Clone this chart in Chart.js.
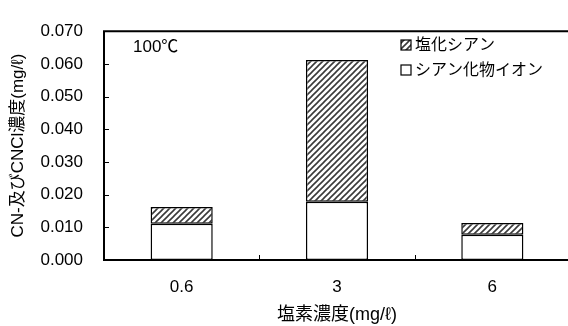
<!DOCTYPE html>
<html>
<head>
<meta charset="utf-8">
<script src="https://cdn.jsdelivr.net/npm/chart.js@4/dist/chart.umd.min.js"></script>
<style>
  html, body { margin: 0; padding: 0; background: #fff; overflow: hidden; }
  #wrap { width: 572px; height: 326px; }
</style>
</head>
<body>
<div id="wrap"><canvas id="c" width="572" height="326"></canvas></div>
<script>
// ---- data ----
const categories = ['0.6', '3', '6'];
const cyanideIon = [0.0111, 0.0178, 0.0077];        // シアン化物イオン (lower)
const cyanogenChloride = [0.0051, 0.0434, 0.0036];  // 塩化シアン (upper)
const seriesNames = ['シアン化物イオン', '塩化シアン'];
const yMin = 0, yMax = 0.07, yStep = 0.01;
const xTitle = '塩素濃度(mg/ℓ)';
const yTitle = 'CN-及びCNCl濃度(mg/ℓ)';
const note = '100℃';

const FONT = "'Liberation Sans', 'Noto Sans CJK JP', Arial, sans-serif";

// hatch pattern ///
function makeHatch() {
  const s = 6;
  const pc = document.createElement('canvas');
  pc.width = s; pc.height = s;
  const g = pc.getContext('2d');
  g.fillStyle = '#fff';
  g.fillRect(0, 0, s, s);
  g.strokeStyle = '#3a3a3a';
  g.lineWidth = 1.6;
  g.beginPath();
  g.moveTo(-1, s + 1); g.lineTo(s + 1, -1);
  g.moveTo(-1, 1); g.lineTo(1, -1);
  g.moveTo(s - 1, s + 1); g.lineTo(s + 1, s - 1);
  g.stroke();
  return g.createPattern(pc, 'repeat');
}
const ctx0 = document.getElementById('c').getContext('2d');
const hatch = makeHatch();

const decorPlugin = {
  id: 'decor',
  afterDatasetsDraw(chart) {
    const ctx = chart.ctx;
    const a = chart.chartArea;
    const ys = chart.scales.y, xs = chart.scales.x;
    ctx.save();
    // inner ticks on y
    ctx.strokeStyle = '#000';
    ctx.lineWidth = 1;
    ys.ticks.forEach(t => {
      const py = Math.round(ys.getPixelForValue(t.value)) + 0.5;
      ctx.beginPath();
      ctx.moveTo(a.left, py);
      ctx.lineTo(a.left + 5, py);
      ctx.stroke();
    });
    // inner ticks on x at category boundaries
    for (let i = 0; i < categories.length - 1; i++) {
      const px = Math.round((xs.getPixelForValue(i) + xs.getPixelForValue(i + 1)) / 2) + 0.5;
      ctx.beginPath();
      ctx.moveTo(px, a.bottom);
      ctx.lineTo(px, a.bottom - 5);
      ctx.stroke();
    }
    // axis lines: left, top, bottom
    ctx.lineWidth = 2;
    ctx.beginPath();
    ctx.moveTo(a.left, a.top);
    ctx.lineTo(a.left, a.bottom);
    ctx.moveTo(a.left - 1, a.top);
    ctx.lineTo(a.right, a.top);
    ctx.moveTo(a.left - 1, a.bottom);
    ctx.lineTo(a.right, a.bottom);
    ctx.stroke();

    // note
    ctx.fillStyle = '#000';
    ctx.font = '17px ' + FONT;
    ctx.textBaseline = 'middle';
    ctx.textAlign = 'left';
    ctx.fillText(note, 133, 47);

    // legend (upper series first)
    const ds = chart.data.datasets;
    const order = [1, 0];
    ctx.font = '16px ' + FONT;
    order.forEach((di, r) => {
      const cy = 45 + r * 25;
      const bx = 401, bs = 10;
      ctx.fillStyle = ds[di].backgroundColor;
      ctx.fillRect(bx, cy - bs / 2, bs, bs);
      ctx.strokeStyle = '#000';
      ctx.lineWidth = 1.2;
      ctx.strokeRect(bx, cy - bs / 2, bs, bs);
      ctx.fillStyle = '#000';
      ctx.fillText(ds[di].label, 415, cy + 1);
    });
    ctx.restore();
  }
};

new Chart(ctx0, {
  type: 'bar',
  data: {
    labels: categories,
    datasets: [
      {
        label: seriesNames[0],
        data: cyanideIon,
        backgroundColor: '#ffffff',
        borderColor: '#000',
        borderWidth: 1.5,
        borderSkipped: false,
        categoryPercentage: 1,
        barPercentage: 0.4
      },
      {
        label: seriesNames[1],
        data: cyanogenChloride,
        backgroundColor: hatch,
        borderColor: '#000',
        borderWidth: 1.5,
        borderSkipped: false,
        categoryPercentage: 1,
        barPercentage: 0.4
      }
    ]
  },
  options: {
    responsive: false,
    animation: false,
    events: [],
    layout: { padding: { left: 0, top: 19, right: 2, bottom: 0 } },
    plugins: { legend: { display: false }, tooltip: { enabled: false } },
    scales: {
      x: {
        stacked: true,
        grid: { display: false, drawTicks: false },
        border: { display: false },
        ticks: { color: '#000', font: { family: FONT, size: 17 }, padding: 17 },
        title: { display: true, text: xTitle, color: '#000', font: { family: FONT, size: 18 }, padding: { top: 0, bottom: 0 } },
        afterFit(s) { s.height = 66; }
      },
      y: {
        stacked: true,
        min: yMin, max: yMax,
        grid: { display: false, drawTicks: false },
        border: { display: false },
        ticks: {
          stepSize: yStep,
          color: '#000',
          font: { family: FONT, size: 17 },
          padding: 21,
          callback: v => Number(v).toFixed(3)
        },
        title: { display: true, text: yTitle, color: '#000', font: { family: FONT, size: 17 }, padding: { top: 8, bottom: 0 } },
        afterFit(s) { s.width = 104; }
      }
    }
  },
  plugins: [decorPlugin]
});
</script>
</body>
</html>
